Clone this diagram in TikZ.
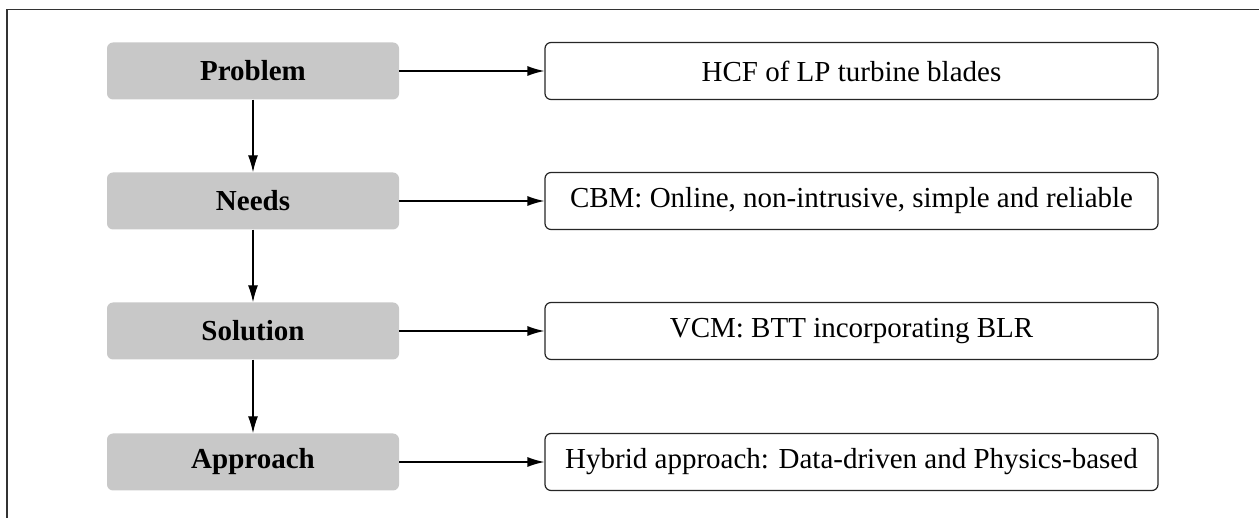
\documentclass[tikz,border=0pt]{standalone}
\usepackage{fontspec}
\setmainfont{Liberation Serif}
\usetikzlibrary{arrows.meta}
\definecolor{boxgray}{HTML}{C8C8C8}
\definecolor{framegray}{HTML}{333333}
\tikzset{
  graybox/.style={fill=boxgray, rounded corners=6pt, minimum width=292pt, minimum height=57pt, inner sep=0pt, font=\fontsize{29}{33}\selectfont\bfseries},
  whitebox/.style={draw=black!85, line width=1.2pt, fill=white, rounded corners=6pt, minimum width=613pt, minimum height=57pt, inner sep=0pt, font=\fontsize{29}{33}\selectfont},
  conn/.style={line width=1.4pt, -{Latex[length=17pt,width=10pt]}}
}
\begin{document}
\begin{tikzpicture}[x=1pt,y=-1pt]
\useasboundingbox (0,0) rectangle (1259,518);
\draw[framegray, line width=1.5pt] (1259,9.5) -- (7,9.5) -- (7,518);
\node[graybox] (p) at (253,71) {Problem};
\node[graybox] (n) at (253,201) {Needs};
\node[graybox] (s) at (253,331) {Solution};
\node[graybox] (a) at (253,462) {Approach};
\node[whitebox] (pr) at (851.5,71) {HCF of LP turbine blades};
\node[whitebox] (nr) at (851.5,201) {CBM: Online, non-intrusive, simple and reliable};
\node[whitebox] (sr) at (851.5,331) {VCM: BTT incorporating BLR};
\node[whitebox] (ar) at (851.5,462) {Hybrid approach: Data-driven and Physics-based};
\draw[conn] (p) -- (n);
\draw[conn] (n) -- (s);
\draw[conn] (s) -- (a);
\draw[conn] (p) -- (pr);
\draw[conn] (n) -- (nr);
\draw[conn] (s) -- (sr);
\draw[conn] (a) -- (ar);
\end{tikzpicture}
\end{document}
